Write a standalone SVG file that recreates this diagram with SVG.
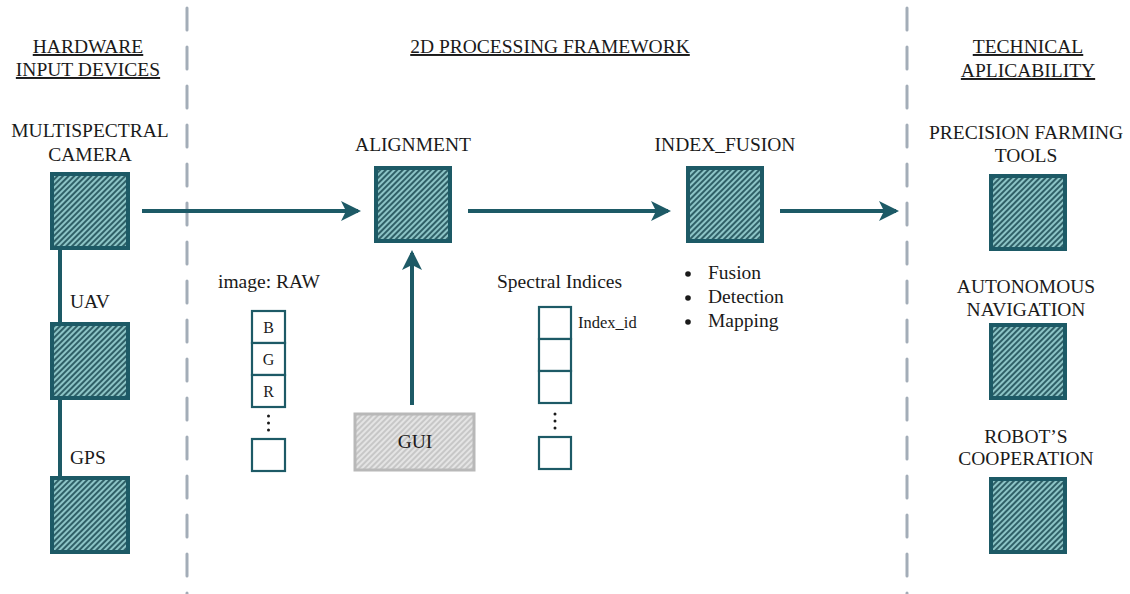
<svg xmlns="http://www.w3.org/2000/svg" width="1130" height="594" viewBox="0 0 1130 594">
  <defs>
    <pattern id="hatch" width="4" height="4" patternUnits="userSpaceOnUse" patternTransform="rotate(45)">
      <rect width="4" height="4" fill="#8cc4c6"/>
      <line x1="1" y1="0" x2="1" y2="4" stroke="#17464f" stroke-width="1.6"/>
    </pattern>
    <pattern id="hatchGray" width="4" height="4" patternUnits="userSpaceOnUse" patternTransform="rotate(45)">
      <rect width="4" height="4" fill="#e4e4e4"/>
      <line x1="1" y1="0" x2="1" y2="4" stroke="#b4b4b4" stroke-width="1.2"/>
    </pattern>
    <marker id="arrow" viewBox="0 0 20 20" refX="17" refY="10" markerWidth="20" markerHeight="20" markerUnits="userSpaceOnUse" orient="auto">
      <path d="M0,0 L20,10 L0,20 L5,10 Z" fill="#1d5a66"/>
    </marker>
  </defs>
  <style>
    text { font-family: "Liberation Serif", "Times New Roman", serif; fill: #1a1a1a; }
    .h { font-size: 19.5px; text-anchor: middle; text-decoration: underline; }
    .t { font-size: 19.5px; text-anchor: middle; }
    .s { font-size: 19.5px; }
    .c { font-size: 16px; text-anchor: middle; }
    .box { fill: url(#hatch); stroke: #1d5a66; stroke-width: 4; }
    .cell { fill: #ffffff; stroke: #1d5a66; stroke-width: 2.2; }
    .sep { stroke: #a3adb8; stroke-width: 3; stroke-dasharray: 22 17; stroke-linecap: round; }
    .link { stroke: #1d5a66; stroke-width: 4; fill: none; }
  </style>

  <rect width="1130" height="594" fill="#ffffff"/>

  <!-- column separators -->
  <line class="sep" x1="187" y1="8" x2="187" y2="594"/>
  <line class="sep" x1="907" y1="8" x2="907" y2="594"/>

  <!-- column headers -->
  <g id="header-hardware">
    <text class="h" x="88" y="53">HARDWARE</text>
    <text class="h" x="88" y="76">INPUT DEVICES</text>
  </g>
  <g id="header-framework">
    <text class="h" x="550" y="53">2D PROCESSING FRAMEWORK</text>
  </g>
  <g id="header-applicability">
    <text class="h" x="1028" y="53">TECHNICAL</text>
    <text class="h" x="1028" y="77">APLICABILITY</text>
  </g>

  <!-- connectors -->
  <g id="connectors">
    <line class="link" x1="60" y1="250" x2="60" y2="476"/>
    <line class="link" x1="142" y1="211" x2="358" y2="211" marker-end="url(#arrow)"/>
    <line class="link" x1="468" y1="211" x2="668" y2="211" marker-end="url(#arrow)"/>
    <line class="link" x1="780" y1="211" x2="896" y2="211" marker-end="url(#arrow)"/>
    <line class="link" x1="412" y1="405" x2="412" y2="253" marker-end="url(#arrow)"/>
  </g>

  <!-- hardware input devices -->
  <g id="camera">
    <text class="t" x="90" y="137">MULTISPECTRAL</text>
    <text class="t" x="90" y="161">CAMERA</text>
    <rect class="box" x="52" y="174" width="76" height="74"/>
  </g>
  <g id="uav">
    <text class="s" x="70" y="308">UAV</text>
    <rect class="box" x="52" y="324" width="76" height="74"/>
  </g>
  <g id="gps">
    <text class="s" x="70" y="464">GPS</text>
    <rect class="box" x="52" y="478" width="76" height="74"/>
  </g>

  <!-- processing framework -->
  <g id="alignment">
    <text class="t" x="413" y="151">ALIGNMENT</text>
    <rect class="box" x="376" y="168" width="74" height="73"/>
  </g>
  <g id="index-fusion">
    <text class="t" x="725" y="151">INDEX_FUSION</text>
    <rect class="box" x="688" y="168" width="74" height="73"/>
    <circle cx="688" cy="274" r="2.8" fill="#1a1a1a"/>
    <circle cx="688" cy="298" r="2.8" fill="#1a1a1a"/>
    <circle cx="688" cy="322" r="2.8" fill="#1a1a1a"/>
    <text class="s" x="708" y="279">Fusion</text>
    <text class="s" x="708" y="303">Detection</text>
    <text class="s" x="708" y="327">Mapping</text>
  </g>
  <g id="gui">
    <rect x="355" y="414" width="119" height="56" fill="url(#hatchGray)" stroke="#b8b8b8" stroke-width="3"/>
    <text class="t" x="415" y="448" fill="#333333">GUI</text>
  </g>

  <!-- raw image channels -->
  <g id="image-raw">
    <text class="s" x="218" y="288">image: RAW</text>
    <rect class="cell" x="252" y="311" width="33" height="32"/>
    <rect class="cell" x="252" y="343" width="33" height="32"/>
    <rect class="cell" x="252" y="375" width="33" height="32"/>
    <text class="c" x="268.5" y="333">B</text>
    <text class="c" x="268.5" y="365">G</text>
    <text class="c" x="268.5" y="397">R</text>
    <circle cx="268.5" cy="416" r="1.5" fill="#1a1a1a"/>
    <circle cx="268.5" cy="423" r="1.5" fill="#1a1a1a"/>
    <circle cx="268.5" cy="430" r="1.5" fill="#1a1a1a"/>
    <rect class="cell" x="252" y="439" width="33" height="32"/>
  </g>

  <!-- spectral indices stack -->
  <g id="spectral-indices">
    <text class="s" x="497" y="288">Spectral Indices</text>
    <rect class="cell" x="539" y="307" width="32" height="32"/>
    <rect class="cell" x="539" y="339" width="32" height="32"/>
    <rect class="cell" x="539" y="371" width="32" height="32"/>
    <text x="578" y="328" font-size="16.5">Index_id</text>
    <circle cx="555" cy="414" r="1.5" fill="#1a1a1a"/>
    <circle cx="555" cy="421" r="1.5" fill="#1a1a1a"/>
    <circle cx="555" cy="428" r="1.5" fill="#1a1a1a"/>
    <rect class="cell" x="539" y="437" width="32" height="32"/>
  </g>

  <!-- technical applicability -->
  <g id="precision-farming">
    <text class="t" x="1026" y="139">PRECISION FARMING</text>
    <text class="t" x="1026" y="162">TOOLS</text>
    <rect class="box" x="991" y="176" width="74" height="73"/>
  </g>
  <g id="autonomous-navigation">
    <text class="t" x="1026" y="293">AUTONOMOUS</text>
    <text class="t" x="1026" y="316">NAVIGATION</text>
    <rect class="box" x="991" y="325" width="74" height="73"/>
  </g>
  <g id="robots-cooperation">
    <text class="t" x="1026" y="443">ROBOT’S</text>
    <text class="t" x="1026" y="465">COOPERATION</text>
    <rect class="box" x="991" y="479" width="74" height="73"/>
  </g>
</svg>
